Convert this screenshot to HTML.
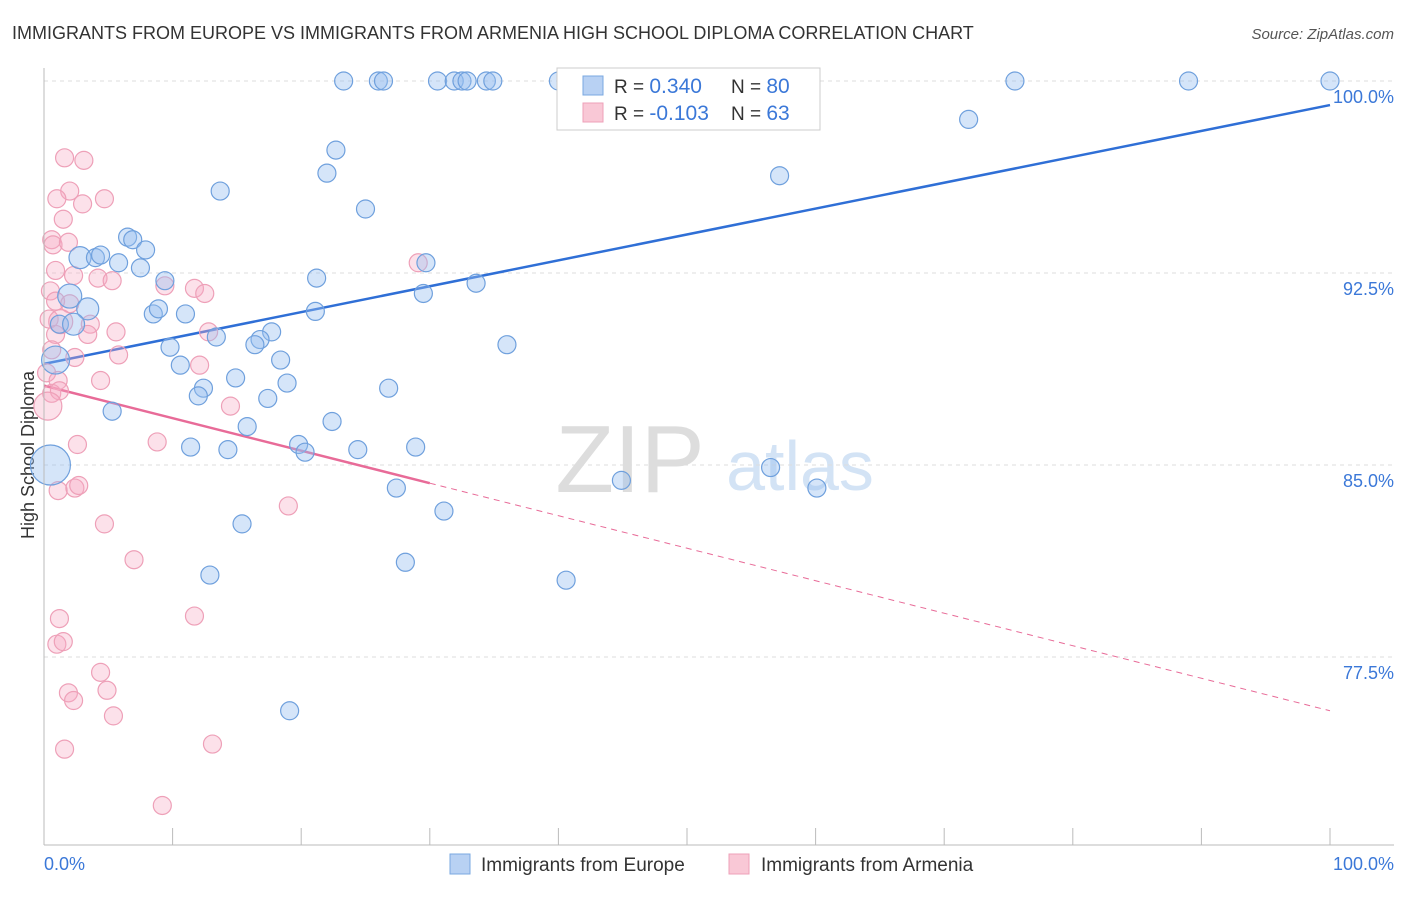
<!DOCTYPE html>
<html><head><meta charset="utf-8"><style>
body{margin:0;background:#fff;font-family:"Liberation Sans",sans-serif}
svg text{font-family:"Liberation Sans",sans-serif}
</style></head><body>
<svg id="c" width="1406" height="892" xmlns="http://www.w3.org/2000/svg">
<text x="12" y="39" font-size="18" fill="#333">IMMIGRANTS FROM EUROPE VS IMMIGRANTS FROM ARMENIA HIGH SCHOOL DIPLOMA CORRELATION CHART</text>
<text x="1394" y="39" font-size="15" fill="#555" text-anchor="end" font-style="italic">Source: ZipAtlas.com</text>
<text x="630" y="492" font-size="96" fill="#ddd" font-family="Liberation Serif" text-anchor="middle">ZIP</text>
<text x="800" y="490" font-size="70" fill="#d3e3f5" text-anchor="middle">atlas</text>
<text transform="translate(34,455) rotate(-90)" font-size="18" fill="#333" text-anchor="middle">High School Diploma</text>
<g id="grid"></g><g id="ticks"></g><g id="lines"></g><g id="pts"></g>
<line x1="44" y1="68" x2="44" y2="845" stroke="#bbb"/>
<line x1="44" y1="845" x2="1394" y2="845" stroke="#bbb"/>
<text x="44" y="870" font-size="18" fill="#3b78d8">0.0%</text>
<text x="1394" y="870" font-size="18" fill="#3b78d8" text-anchor="end">100.0%</text>
<g>
<rect x="557" y="68" width="263" height="62" fill="#fff" stroke="#ccc"/>
<rect x="583" y="76" width="20" height="19" fill="#b8d1f3" stroke="#7aa8e0"/>
<rect x="583" y="103" width="20" height="19" fill="#f9c8d6" stroke="#eea0b8"/>
<text x="614" y="93" font-size="19" fill="#333">R = <tspan fill="#3b78d8" font-size="21">0.340</tspan><tspan x="731">N = </tspan><tspan fill="#3b78d8" font-size="21">80</tspan></text>
<text x="614" y="120" font-size="19" fill="#333">R = <tspan fill="#3b78d8" font-size="21">-0.103</tspan><tspan x="731">N = </tspan><tspan fill="#3b78d8" font-size="21">63</tspan></text>
</g>
<g><rect x="450" y="854" width="20" height="20" fill="#b8d1f3" stroke="#7aa8e0"/><text x="481" y="871" font-size="19" fill="#333">Immigrants from Europe</text></g>
<g><rect x="729" y="854" width="20" height="20" fill="#f9c8d6" stroke="#eea0b8"/><text x="761" y="871" font-size="19" fill="#333">Immigrants from Armenia</text></g>
</svg>
<script>
const yTicks=[100,92.5,85,77.5];
const yTickLabels=["100.0%","92.5%","85.0%","77.5%"];
const xTicks=[0,10,20,30,40,50,60,70,80,90,100];
const europeX=[23.3,26.0,26.4,30.6,31.9,32.5,32.9,34.4,34.9,40.0,47.7,75.5,89.0,100,71.9,22.7,22.0,57.2,13.7,25.0,6.5,6.9,7.9,2.8,4.0,4.4,5.8,7.5,9.4,21.2,33.6,29.7,2.0,3.4,1.2,2.3,8.5,8.9,11.0,13.4,17.7,16.8,16.4,29.5,21.1,36.0,9.8,10.6,18.4,14.9,18.9,12.4,12.0,26.8,17.4,5.3,22.4,15.8,11.4,14.3,19.8,20.3,24.4,28.9,27.4,44.9,56.5,60.1,31.1,15.4,28.1,40.6,12.9,19.1,0.5,0.9];
const europeY=[100,100,100,100,100,100,100,100,100,100,100,100,100,100,98.5,97.3,96.4,96.3,95.7,95.0,93.9,93.8,93.4,93.1,93.1,93.2,92.9,92.7,92.2,92.3,92.1,92.9,91.6,91.1,90.5,90.5,90.9,91.1,90.9,90.0,90.2,89.9,89.7,91.7,91.0,89.7,89.6,88.9,89.1,88.4,88.2,88.0,87.7,88.0,87.6,87.1,86.7,86.5,85.7,85.6,85.8,85.5,85.6,85.7,84.1,84.4,84.9,84.1,83.2,82.7,81.2,80.5,80.7,75.4,85.0,89.1];
const europeSize=[9,9,9,9,9,9,9,9,9,9,9,9,9,9,9,9,9,9,9,9,9,9,9,11,9,9,9,9,9,9,9,9,12,11,9,11,9,9,9,9,9,9,9,9,9,9,9,9,9,9,9,9,9,9,9,9,9,9,9,9,9,9,9,9,9,9,9,9,9,9,9,9,9,9,20,14];
const armeniaX=[1.6,3.1,2.0,1.0,4.7,3.0,1.5,0.6,0.7,1.9,0.9,2.3,4.2,5.3,11.7,12.5,9.4,0.5,0.9,2.0,0.4,3.6,3.4,5.6,12.8,0.9,0.6,2.4,5.8,12.1,0.2,1.1,4.4,0.6,1.2,0.3,14.5,29.1,2.6,8.8,1.1,2.4,2.7,19.0,4.7,7.0,1.2,11.7,1.0,1.5,4.4,1.9,4.9,2.3,5.4,1.6,13.1,9.2,1.3];
const armeniaY=[97.0,96.9,95.7,95.4,95.4,95.2,94.6,93.8,93.6,93.7,92.6,92.4,92.3,92.2,91.9,91.7,92.0,91.8,91.4,91.3,90.7,90.5,90.1,90.2,90.2,90.1,89.5,89.2,89.3,88.9,88.6,88.3,88.3,87.8,87.9,87.3,87.3,92.9,85.8,85.9,84.0,84.1,84.2,83.4,82.7,81.3,79.0,79.1,78.0,78.1,76.9,76.1,76.2,75.8,75.2,73.9,74.1,71.7,90.6];
const armeniaSize=[9,9,9,9,9,9,9,9,9,9,9,9,9,9,9,9,9,9,9,9,9,9,9,9,9,9,9,9,9,9,9,9,9,9,9,14,9,9,9,9,9,9,9,9,9,9,9,9,9,9,9,9,9,9,9,9,9,9,12];
const europeTrend=[88.95,99.06];
const armeniaTrend=[88.1,75.4];
const armeniaSolidEnd=30;
const NS="http://www.w3.org/2000/svg";
const X=v=>44+v*12.86, Y=v=>81+(100-v)*25.6;
function mk(t,a,p){const e=document.createElementNS(NS,t);for(const k in a)e.setAttribute(k,a[k]);p.appendChild(e);return e;}
const grid=document.getElementById('grid'),ticks=document.getElementById('ticks'),lines=document.getElementById('lines'),pts=document.getElementById('pts');
yTicks.forEach((t,i)=>{
 const l=mk('line',{x1:44,x2:1394,y1:Y(t),y2:Y(t),stroke:'#ddd','stroke-dasharray':'4,4'},grid);
 
 
 const tx=mk('text',{x:1394,y:Y(t)+22,'font-size':18,fill:'#3b78d8','text-anchor':'end'},grid);tx.textContent=yTickLabels[i];
 
 
});
xTicks.forEach(t=>{
 const l=mk('line',{x1:X(t),x2:X(t),y1:828,y2:845,stroke:'#bbb'},ticks);
 
 
});
let bl=mk('line',{x1:X(0),y1:Y(europeTrend[0]),x2:X(100),y2:Y(europeTrend[1]),stroke:'#2f6fd6','stroke-width':2.5},lines);


const ay=x=>armeniaTrend[0]+(armeniaTrend[1]-armeniaTrend[0])*x/100;
let pl=mk('line',{x1:X(0),y1:Y(ay(0)),x2:X(armeniaSolidEnd),y2:Y(ay(armeniaSolidEnd)),stroke:'#e86b98','stroke-width':2.5},lines);


let pd=mk('line',{x1:X(armeniaSolidEnd),y1:Y(ay(armeniaSolidEnd)),x2:X(100),y2:Y(ay(100)),stroke:'#e86b98','stroke-width':1,'stroke-dasharray':'6,5'},lines);


armeniaX.forEach((x,i)=>{
 const c=mk('circle',{cx:X(x),cy:Y(armeniaY[i]),r:armeniaSize[i],fill:'rgba(245,170,195,0.35)',stroke:'#eea0b8','stroke-width':1.2},pts);
 
 
});
europeX.forEach((x,i)=>{
 const c=mk('circle',{cx:X(x),cy:Y(europeY[i]),r:europeSize[i],fill:'rgba(150,190,240,0.4)',stroke:'#6fa0dd','stroke-width':1.2},pts);
 
 
});
</script>
</body></html>
